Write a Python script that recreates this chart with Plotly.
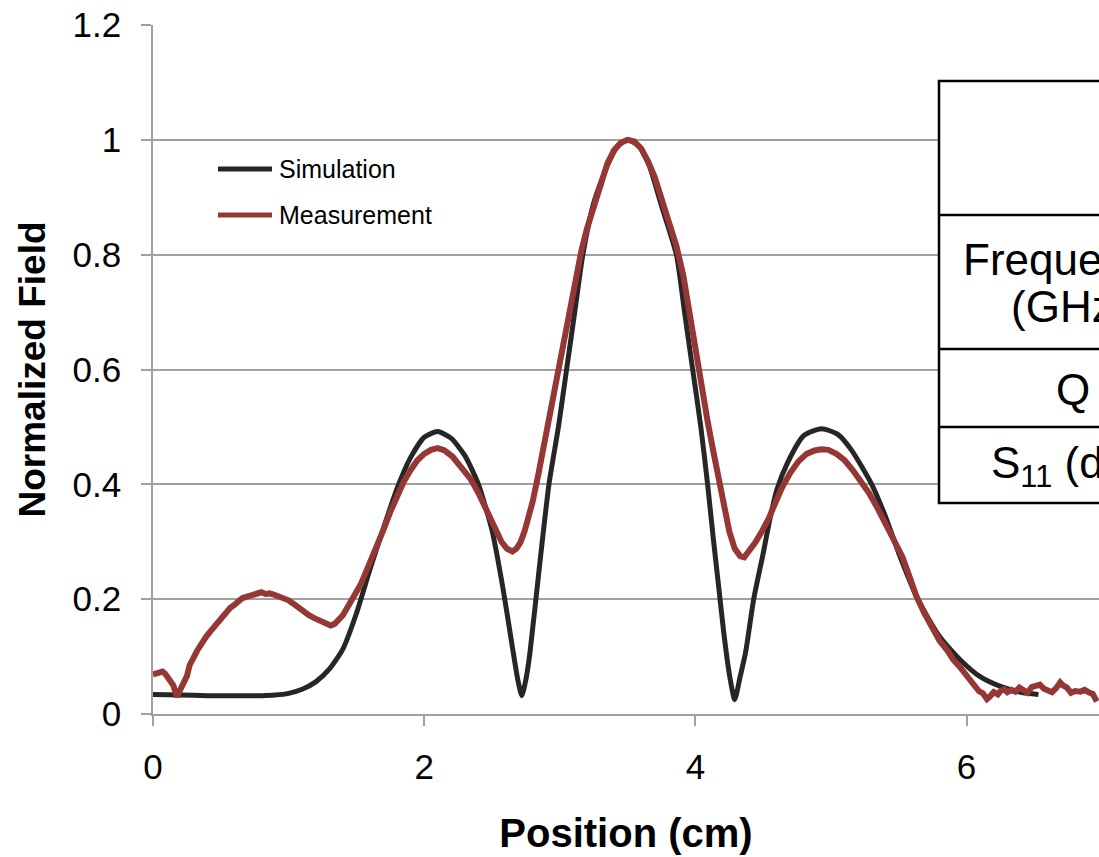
import plotly.graph_objects as go

# Field profile along the cavity axis
sim_x = [0.00, 0.20, 0.40, 0.60, 0.80, 0.90, 1.00, 1.10, 1.20, 1.30, 1.40, 1.50,
         1.60, 1.70, 1.80, 1.90, 2.00, 2.10, 2.20, 2.30, 2.40, 2.50, 2.58, 2.65,
         2.69, 2.72, 2.75, 2.78, 2.85, 2.92, 2.99, 3.05, 3.11, 3.17, 3.25, 3.35,
         3.43, 3.50, 3.58, 3.66, 3.75, 3.86, 3.92, 3.98, 4.04, 4.09, 4.13, 4.17,
         4.21, 4.25, 4.29, 4.33, 4.37, 4.43, 4.50, 4.55, 4.60, 4.68, 4.80, 4.93,
         5.05, 5.15, 5.30, 5.40, 5.50, 5.64, 5.80, 5.95, 6.10, 6.25, 6.40, 6.53]
sim_y = [0.034, 0.033, 0.032, 0.032, 0.032, 0.033, 0.036, 0.043, 0.056, 0.078, 0.113, 0.175,
         0.252, 0.324, 0.393, 0.447, 0.482, 0.492, 0.480, 0.450, 0.400, 0.320, 0.220, 0.117,
         0.060, 0.032, 0.060, 0.107, 0.257, 0.400, 0.500, 0.600, 0.700, 0.800, 0.890, 0.955,
         0.990, 1.000, 0.990, 0.955, 0.885, 0.800, 0.700, 0.600, 0.500, 0.400, 0.310, 0.225,
         0.140, 0.070, 0.025, 0.065, 0.107, 0.200, 0.280, 0.340, 0.390, 0.438, 0.485, 0.497,
         0.487, 0.460, 0.400, 0.345, 0.280, 0.200, 0.135, 0.095, 0.065, 0.048, 0.038, 0.034]

meas_x = [0.00, 0.04, 0.07, 0.09, 0.11, 0.13, 0.15, 0.17, 0.18, 0.20, 0.22, 0.25,
          0.27, 0.29, 0.31, 0.33, 0.36, 0.39, 0.42, 0.45, 0.48, 0.51, 0.54, 0.57,
          0.60, 0.63, 0.66, 0.70, 0.74, 0.77, 0.80, 0.83, 0.86, 0.89, 0.92, 0.96,
          1.00, 1.03, 1.07, 1.11, 1.15, 1.19, 1.23, 1.27, 1.31, 1.34, 1.37, 1.40,
          1.44, 1.48, 1.53, 1.57, 1.61, 1.65, 1.70, 1.75, 1.80, 1.85, 1.90, 1.95,
          2.00, 2.05, 2.10, 2.15, 2.21, 2.27, 2.34, 2.40, 2.46, 2.52, 2.57, 2.61,
          2.65, 2.68, 2.71, 2.74, 2.77, 2.80, 2.84, 2.88, 2.92, 2.96, 3.00, 3.04,
          3.08, 3.12, 3.16, 3.20, 3.25, 3.30, 3.35, 3.40, 3.45, 3.50, 3.55, 3.60,
          3.65, 3.70, 3.75, 3.80, 3.86, 3.91, 3.96, 4.01, 4.05, 4.09, 4.13, 4.17,
          4.21, 4.25, 4.29, 4.33, 4.36, 4.40, 4.44, 4.49, 4.54, 4.59, 4.64, 4.70,
          4.76, 4.82, 4.88, 4.93, 4.98, 5.04, 5.10, 5.16, 5.22, 5.28, 5.34, 5.41,
          5.47, 5.53, 5.58, 5.63, 5.69, 5.75, 5.80, 5.86, 5.90, 5.95, 6.00, 6.03,
          6.06, 6.09, 6.12, 6.15, 6.17, 6.20, 6.23, 6.25, 6.28, 6.30, 6.33, 6.36,
          6.39, 6.42, 6.45, 6.48, 6.51, 6.54, 6.57, 6.60, 6.63, 6.66, 6.69, 6.71,
          6.74, 6.77, 6.80, 6.84, 6.87, 6.90, 6.93, 6.96]
meas_y = [0.069, 0.072, 0.074, 0.070, 0.064, 0.055, 0.050, 0.035, 0.030, 0.042, 0.050, 0.066,
          0.085, 0.097, 0.103, 0.112, 0.125, 0.134, 0.143, 0.152, 0.160, 0.168, 0.178, 0.185,
          0.190, 0.196, 0.202, 0.205, 0.208, 0.209, 0.212, 0.209, 0.210, 0.208, 0.206, 0.203,
          0.198, 0.193, 0.185, 0.177, 0.172, 0.167, 0.162, 0.158, 0.154, 0.157, 0.163, 0.172,
          0.188, 0.204, 0.225, 0.247, 0.268, 0.292, 0.321, 0.352, 0.381, 0.405, 0.425, 0.442,
          0.453, 0.460, 0.463, 0.459, 0.448, 0.432, 0.410, 0.385, 0.355, 0.323, 0.300, 0.288,
          0.283, 0.288, 0.299, 0.318, 0.340, 0.370, 0.415, 0.465, 0.520, 0.570, 0.622, 0.672,
          0.721, 0.765, 0.808, 0.845, 0.885, 0.925, 0.958, 0.982, 0.995, 1.000, 0.997, 0.985,
          0.963, 0.935, 0.898, 0.862, 0.815, 0.765, 0.690, 0.617, 0.560, 0.510, 0.460, 0.410,
          0.360, 0.318, 0.288, 0.275, 0.273, 0.284, 0.298, 0.318, 0.340, 0.368, 0.395, 0.420,
          0.440, 0.453, 0.459, 0.461, 0.460, 0.453, 0.442, 0.425, 0.405, 0.385, 0.360, 0.330,
          0.300, 0.272, 0.240, 0.205, 0.175, 0.147, 0.128, 0.110, 0.095, 0.082, 0.066, 0.055,
          0.046, 0.040, 0.036, 0.026, 0.030, 0.038, 0.034, 0.040, 0.043, 0.038, 0.042, 0.039,
          0.046, 0.042, 0.037, 0.047, 0.049, 0.051, 0.044, 0.040, 0.038, 0.045, 0.055, 0.050,
          0.046, 0.037, 0.040, 0.039, 0.042, 0.038, 0.035, 0.022]

series_names = ["Simulation", "Measurement"]
series_colors = ["#262626", "#953735"]

# table labels: (text, centre x, centre y) in page pixels
table_labels = [("Frequency", 1067, 259), ("(GHz)", 1069, 306),
                ("Q", 1073, 389), ("S<sub>11</sub> (dB)", 1069, 466)]

x_ticks = [0, 2, 4, 6]
y_ticks = [0, 0.2, 0.4, 0.6, 0.8, 1, 1.2]
y_tick_text = ["0", "0.2", "0.4", "0.6", "0.8", "1", "1.2"]

FONT = "Liberation Sans, Arial, sans-serif"
W, H = 1099, 857
L, R, T, B = 153, 0, 25, 143
PW, PH = W - L - R, H - T - B


def px(xp):
    return (xp - L) / PW


def py(yp):
    return (H - B - yp) / PH


fig = go.Figure()
fig.add_trace(go.Scatter(x=sim_x, y=sim_y, mode="lines", name=series_names[0],
                         line=dict(color=series_colors[0], width=5, shape="spline", smoothing=0.6),
                         showlegend=False))
fig.add_trace(go.Scatter(x=meas_x, y=meas_y, mode="lines", name=series_names[1],
                         line=dict(color=series_colors[1], width=6),
                         showlegend=False))

shapes = []
annotations = []

# legend keys
for i, (name, col) in enumerate(zip(series_names, series_colors)):
    yy = py(169 + 46 * i)
    shapes.append(dict(type="line", xref="paper", yref="paper",
                       x0=px(218), x1=px(272), y0=yy, y1=yy,
                       line=dict(color=col, width=5)))
    annotations.append(dict(xref="paper", yref="paper", x=px(277), y=yy,
                            xanchor="left", yanchor="middle", showarrow=False,
                            text=name, font=dict(family=FONT, size=25, color="#000000")))

# parameter table
tbl_left, tbl_right = 939, 1210
row_edges = [81, 215, 349, 427, 503]
shapes.append(dict(type="rect", xref="paper", yref="paper",
                   x0=px(tbl_left), x1=px(tbl_right), y0=py(row_edges[-1]), y1=py(row_edges[0]),
                   fillcolor="white", line=dict(color="black", width=2.5), layer="above"))
for e in row_edges[1:-1]:
    shapes.append(dict(type="line", xref="paper", yref="paper",
                       x0=px(tbl_left), x1=px(tbl_right), y0=py(e), y1=py(e),
                       line=dict(color="black", width=2.5), layer="above"))
for label, cx, cy in table_labels:
    annotations.append(dict(xref="paper", yref="paper", x=px(cx), y=py(cy),
                            xanchor="center", yanchor="middle", showarrow=False,
                            text=label, align="center",
                            font=dict(family=FONT, size=44, color="#000000")))

grid_col = "#a0a0a0"
fig.update_layout(
    width=W, height=H,
    margin=dict(l=L, r=R, t=T, b=B, pad=0),
    paper_bgcolor="white", plot_bgcolor="white",
    font=dict(family=FONT, color="#000000"),
    shapes=shapes, annotations=annotations,
    xaxis=dict(range=[0, PW / 135.6], tickvals=x_ticks, ticktext=[str(v) for v in x_ticks],
               showgrid=False, zeroline=False, showline=True, linecolor=grid_col, linewidth=1.5,
               ticks="outside", ticklen=10, tickwidth=1.5, tickcolor=grid_col,
               tickfont=dict(family=FONT, size=35), ticklabelstandoff=11,
               title=dict(text="<b>Position (cm)</b>", font=dict(family=FONT, size=40), standoff=34)),
    yaxis=dict(range=[0, 1.2], tickvals=y_ticks, ticktext=y_tick_text,
               showgrid=True, gridcolor=grid_col, gridwidth=1.5, zeroline=False,
               showline=True, linecolor=grid_col, linewidth=1.5,
               ticks="outside", ticklen=10, tickwidth=1.5, tickcolor=grid_col,
               tickfont=dict(family=FONT, size=35), ticklabelstandoff=13,
               title=dict(text="<b>Normalized Field</b>", font=dict(family=FONT, size=37), standoff=16)),
)

fig.write_html("out.html")
